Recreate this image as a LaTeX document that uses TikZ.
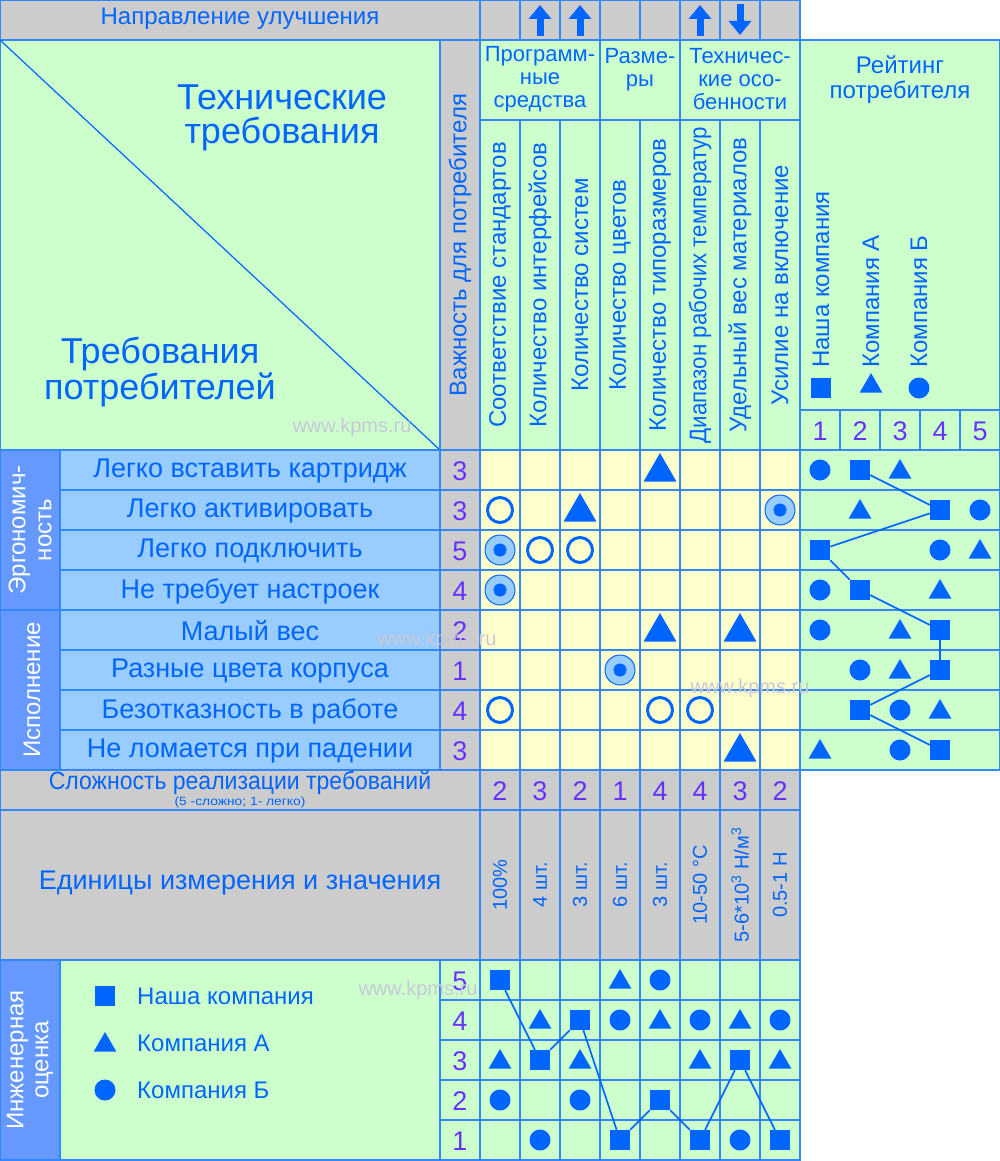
\documentclass[tikz,border=0pt]{standalone}
\usepackage{fontspec}
\setmainfont{Liberation Sans}
\usetikzlibrary{shapes.geometric,arrows.meta}
\definecolor{gr}{HTML}{CCFFCC}
\definecolor{ye}{HTML}{FFFFCC}
\definecolor{gy}{HTML}{CCCCCC}
\definecolor{rb}{HTML}{99CCFF}
\definecolor{gb}{HTML}{6699FF}
\definecolor{bd}{HTML}{3388FF}
\definecolor{sy}{HTML}{0066FF}
\definecolor{pu}{HTML}{6633FF}
\definecolor{wm}{HTML}{C8C8D8}
\tikzset{
 cell/.style={draw=bd,line width=1.2pt},
 txt/.style={text=sy,inner sep=0pt,font=\fontsize{27}{30}\selectfont},
 htxt/.style={text=sy,inner sep=0pt,align=center,font=\fontsize{22}{23}\selectfont},
 rtxt/.style={text=sy,inner sep=0pt,rotate=90,font=\fontsize{24}{26}\selectfont},
 num/.style={text=pu,inner sep=0pt,font=\fontsize{27}{30}\selectfont},
 wmk/.style={text=wm,inner sep=0pt,font=\fontsize{20}{22}\selectfont},
 sq/.style={rectangle,fill=sy,minimum size=20pt,inner sep=0pt},
 tri/.style={regular polygon,regular polygon sides=3,fill=sy,minimum size=26pt,inner sep=0pt},
 btri/.style={regular polygon,regular polygon sides=3,fill=sy,minimum size=38pt,inner sep=0pt},
 circ/.style={circle,fill=sy,minimum size=21pt,inner sep=0pt},
 ocirc/.style={circle,draw=sy,line width=3pt,minimum size=25pt,inner sep=0pt},
 dcirc/.style={circle,draw=sy,fill=rb,line width=1pt,minimum size=30pt,inner sep=0pt},
 dot/.style={circle,fill=sy,minimum size=13pt,inner sep=0pt},
 link/.style={draw=sy,line width=1.6pt},
 dirarrow/.style={sy,line width=7pt,-{Triangle[width=22pt,length=14pt]}}
}
\begin{document}
\begin{tikzpicture}[x=1pt,y=-1pt]
\useasboundingbox (0,0) rectangle (1000,1161);
% top row
\draw[cell,fill=gy] (0,0) rectangle (480,40);
\node[htxt,font=\fontsize{24}{26}\selectfont] at (240,19) {Направление улучшения};
\foreach \i in {0,...,7} \draw[cell,fill=gy] (480+40*\i,0) rectangle +(40,40);
\coordinate (a1s) at (540,36); \coordinate (a1e) at (540,5);
\coordinate (a2s) at (580,36); \coordinate (a2e) at (580,5);
\coordinate (a3s) at (700,36); \coordinate (a3e) at (700,5);
\coordinate (a4s) at (740,4); \coordinate (a4e) at (740,35);
\foreach \k in {1,...,4} \draw[dirarrow] (a\k s) -- (a\k e);
% header block
\draw[cell,fill=gr] (0,40) rectangle (440,450);
\draw[draw=sy,line width=1.2pt] (0,40) -- (440,450);
\node[htxt,font=\fontsize{36}{34}\selectfont] (tt) at (282,118) {Технические\\требования};
\node[htxt,font=\fontsize{36}{34}\selectfont] (tp) at (160,372) {Требования\\потребителей};
\draw[cell,fill=gy] (440,40) rectangle (480,450);
\node[rtxt] at (460,245) {Важность для потребителя};
\draw[cell,fill=gr] (480,40) rectangle (600,120);
\draw[cell,fill=gr] (600,40) rectangle (680,120);
\draw[cell,fill=gr] (680,40) rectangle (800,120);
\node[htxt] at (540,79) {Программ-\\ные\\средства};
\node[htxt] at (640,70) {Разме-\\ры};
\node[htxt] at (740,79) {Техничес-\\кие осо-\\бенности};
\foreach \t [count=\i from 0] in {Соответствие стандартов,Количество интерфейсов,Количество систем,Количество цветов,Количество типоразмеров,{\scalebox{0.93}[1]{Диапазон рабочих температур}},Удельный вес материалов,Усилие на включение}{
  \draw[cell,fill=gr] (480+40*\i,120) rectangle +(40,330);
  \node[rtxt] at (500+40*\i,285) {\t};
}
\draw[cell,fill=gr] (800,40) rectangle (1000,410);
\node[htxt,font=\fontsize{24}{25}\selectfont] at (900,80) {Рейтинг\\потребителя};
\node[sq] (ls) at (821,388) {}; \node[rtxt,anchor=west] at (821,368) {Наша компания};
\node[tri] (lt) at (871,386) {}; \node[rtxt,anchor=west] at (871,368) {Компания А};
\node[circ] (lc) at (919,388) {}; \node[rtxt,anchor=west] at (919,368) {Компания Б};
\foreach \i in {1,...,5}{
  \draw[cell,fill=gr] (760+40*\i,410) rectangle +(40,40);
  \node[num] at (780+40*\i,431) {\i};
}
% requirement rows
\foreach \t/\w [count=\j from 0] in {Легко вставить картридж/3,Легко активировать/3,Легко подключить/5,Не требует настроек/4,Малый вес/2,Разные цвета корпуса/1,Безотказность в работе/4,Не ломается при падении/3}{
  \draw[cell,fill=rb] (60,450+40*\j) rectangle +(380,40);
  \node[txt] at (250,471+40*\j) {\t};
  \draw[cell,fill=gy] (440,450+40*\j) rectangle +(40,40);
  \node[num] at (460,471+40*\j) {\w};
  \foreach \i in {0,...,7} \draw[cell,fill=ye] (480+40*\i,450+40*\j) rectangle +(40,40);
  \draw[cell,fill=gr] (800,450+40*\j) rectangle +(200,40);
}
\draw[cell,fill=gb] (0,450) rectangle (60,610);
\draw[cell,fill=gb] (0,610) rectangle (60,770);
\node[htxt,rotate=90,text=white,font=\fontsize{24}{26}\selectfont] at (30,530) {Эргономич-\\ность};
\node[htxt,rotate=90,text=white,font=\fontsize{24}{26}\selectfont] at (32,690) {Исполнение};
% matrix symbols
\node[btri] (m0-4) at (660,472) {};
\node[ocirc] (m1-0) at (500,510) {};
\node[btri] (m1-2) at (580,512) {};
\node[dcirc] (m1-7) at (780,510) {}; \node[dot] at (m1-7) {};
\node[dcirc] (m2-0) at (500,550) {}; \node[dot] at (m2-0) {};
\node[ocirc] (m2-1) at (540,550) {};
\node[ocirc] (m2-2) at (580,550) {};
\node[dcirc] (m3-0) at (500,590) {}; \node[dot] at (m3-0) {};
\node[btri] (m4-4) at (660,632) {};
\node[btri] (m4-6) at (740,632) {};
\node[dcirc] (m5-3) at (620,670) {}; \node[dot] at (m5-3) {};
\node[ocirc] (m6-0) at (500,710) {};
\node[ocirc] (m6-4) at (660,710) {};
\node[ocirc] (m6-5) at (700,710) {};
\node[btri] (m7-6) at (740,752) {};
% rating
\foreach \j/\s/\t/\c in {0/2/3/1,1/4/2/5,2/1/5/4,3/2/4/1,4/4/3/1,5/4/3/2,6/2/4/3,7/4/1/3}{
  \node[sq] (rs\j) at (780+40*\s,470+40*\j) {};
  \node[tri] (rt\j) at (780+40*\t,472+40*\j) {};
  \node[circ] (rc\j) at (780+40*\c,470+40*\j) {};
}
\foreach \a/\b in {0/1,1/2,2/3,3/4,4/5,5/6,6/7} \draw[link] (rs\a) -- (rs\b);
% complexity
\draw[cell,fill=gy] (0,770) rectangle (480,810);
\node[txt,font=\fontsize{25}{27}\selectfont] at (240,783) {\scalebox{0.92}[1]{Сложность реализации требований}};
\node[txt,font=\fontsize{12}{13}\selectfont] at (240,802) {\scalebox{1.15}[1]{(5 -сложно; 1- легко)}};
\foreach \v [count=\i from 0] in {2,3,2,1,4,4,3,2}{
  \draw[cell,fill=gy] (480+40*\i,770) rectangle +(40,40);
  \node[num] at (500+40*\i,791) {\v};
}
% units
\draw[cell,fill=gy] (0,810) rectangle (480,960);
\node[txt] at (240,883) {Единицы измерения и значения};
\foreach \v [count=\i from 0] in {100\%,4 шт.,3 шт.,6 шт.,3 шт.,10-50 °C,{5-6*10\textsuperscript{3} Н/м\textsuperscript{3}},0.5-1 Н}{
  \draw[cell,fill=gy] (480+40*\i,810) rectangle +(40,150);
  \node[rtxt,font=\fontsize{20}{22}\selectfont] at (500+40*\i,885) {\v};
}
% engineering assessment
\draw[cell,fill=gb] (0,960) rectangle (60,1160);
\node[htxt,rotate=90,text=white,font=\fontsize{24}{25}\selectfont] at (30,1060) {Инженерная\\оценка};
\draw[cell,fill=gr] (60,960) rectangle (440,1160);
\node[sq] (es) at (105,996) {}; \node[txt,anchor=west,font=\fontsize{24}{26}\selectfont] at (137,996) {Наша компания};
\node[tri] (et) at (105,1045) {}; \node[txt,anchor=west,font=\fontsize{24}{26}\selectfont] at (137,1043) {Компания А};
\node[circ] (ec) at (105,1090) {}; \node[txt,anchor=west,font=\fontsize{24}{26}\selectfont] at (137,1090) {Компания Б};
\foreach \l in {1,...,5}{
  \draw[cell,fill=gr] (440,1160-40*\l) rectangle +(40,40);
  \foreach \i in {0,...,7} \draw[cell,fill=gr] (480+40*\i,1160-40*\l) rectangle +(40,40);
}
\foreach \l in {1,...,5} \node[num] at (460,1181-40*\l) {\l};
\foreach \i/\s/\t/\c in {0/5/3/2,1/3/4/1,2/4/3/2,3/1/5/4,4/2/4/5,6/3/4/1,7/1/3/4}{
  \node[sq] (es\i) at (500+40*\i,1180-40*\s) {};
  \node[tri] (et\i) at (500+40*\i,1182-40*\t) {};
  \node[circ] (ec\i) at (500+40*\i,1180-40*\c) {};
}
\node[sq] (es5) at (700,1140) {};
\node[tri] (et5) at (700,1062) {};
\node[circ] (ec5) at (700,1020) {};
\foreach \a/\b in {0/1,1/2,2/3,3/4,4/5,5/6,6/7} \draw[link] (es\a) -- (es\b);
% watermarks
\node[wmk] at (352,427) {www.kpms.ru};
\node[wmk] at (437,640) {www.kpms.ru};
\node[wmk] at (750,688) {www.kpms.ru};
\node[wmk] at (418,990) {www.kpms.ru};
\end{tikzpicture}
\end{document}
